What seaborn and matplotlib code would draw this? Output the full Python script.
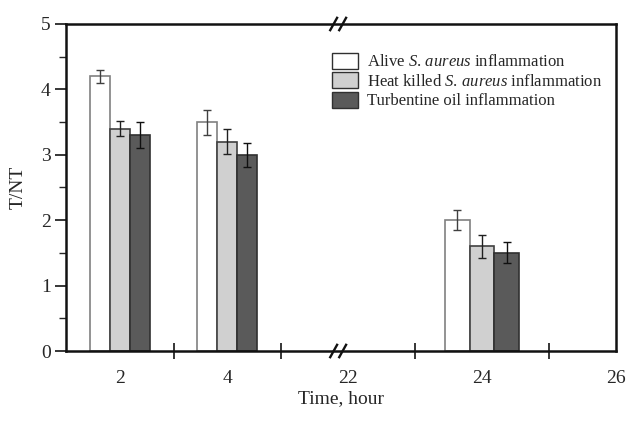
import numpy as np
import pandas as pd
import matplotlib
matplotlib.use("Agg")
import matplotlib.pyplot as plt
import seaborn as sns

# ---- data ----
hours = [2, 4, 24]
series = ["Alive $\\mathit{S.\\,aureus}$ inflammation",
          "Heat killed $\\mathit{S.\\,aureus}$ inflammation",
          "Turbentine oil inflammation"]
alive = [4.2, 3.5, 2.0]
alive_err = [0.1, 0.19, 0.15]
heat = [3.4, 3.2, 1.6]
heat_err = [0.11, 0.19, 0.18]
turp = [3.3, 3.0, 1.5]
turp_err = [0.2, 0.18, 0.16]
tick_labels = ["2", "4", "22", "24", "26"]
label_hours = [2, 4, 22, 24, 26]
boundary_hours = [3, 5, 23, 25]

# ---- broken-axis layout: hour -> axis position ----
knot_hours = [1, 5, 22, 26]
knot_pos = [0, 215, 282, 550]
def hpos(h):
    return np.interp(h, knot_hours, knot_pos)

sns.set_style("ticks")
plt.rcParams["font.family"] = ["Liberation Serif", "DejaVu Serif"]
plt.rcParams["mathtext.fontset"] = "custom"
plt.rcParams["mathtext.rm"] = "Liberation Serif"
plt.rcParams["mathtext.it"] = "Liberation Serif:italic"

df = pd.DataFrame({
    "pos": np.concatenate([hpos(hours)] * 3),
    "value": alive + heat + turp,
    "err": alive_err + heat_err + turp_err,
    "series": np.repeat(series, len(hours)),
})

fills = ["#ffffff", "#d0d0d0", "#5a5a5a"]
edges = ["#808080", "#404040", "#303030"]
errc = ["#404040", "#202020", "#101010"]

fig = plt.figure(figsize=(6.3, 4.23), dpi=100)
ax = fig.add_axes([66 / 630, 1 - 351 / 423, 550 / 630, 327 / 423])

sns.barplot(data=df, x="pos", y="value", hue="series", hue_order=series,
            native_scale=True, palette=fills, width=0.555, errorbar=None,
            linewidth=1.2, ax=ax, legend=True)

# style bars and add error bars
for si in range(3):
    cont = ax.containers[si]
    errs = df[df["series"] == series[si]]["err"].values
    for bi, patch in enumerate(cont.patches):
        patch.set_edgecolor(edges[si])
        if bi == 2:  # wider bars in the stretched segment after the break
            cx_group = hpos(hours[2])
            x0 = patch.get_x()
            w = patch.get_width()
            scale = 1.25
            patch.set_x(cx_group + (x0 - cx_group) * scale)
            patch.set_width(w * scale)
        cx = patch.get_x() + patch.get_width() / 2
        ax.errorbar(cx, patch.get_height(), yerr=errs[bi], fmt="none",
                    ecolor=errc[si], elinewidth=1.0, capsize=3, capthick=1.0,
                    zorder=5)

ax.set_xlim(hpos(1), hpos(26))
ax.set_ylim(0, 5)
ax.set_yticks([0, 1, 2, 3, 4, 5])
ax.set_yticks(np.arange(0.5, 5, 1.0), minor=True)
ax.tick_params(axis="y", which="major", direction="out", length=8, width=1.3,
               labelsize=14, pad=3)
ax.tick_params(axis="y", which="minor", direction="out", length=5, width=1.0)

ax.set_xticks(hpos(boundary_hours))
ax.set_xticklabels([])
ax.set_xticks(hpos(label_hours), minor=True)
ax.set_xticklabels(tick_labels, minor=True)
ax.tick_params(axis="x", which="major", direction="inout", length=12, width=1.3)
ax.tick_params(axis="x", which="minor", length=0, labelsize=14, pad=14)

for s in ax.spines.values():
    s.set_visible(True)
    s.set_linewidth(1.8)
    s.set_color("#111111")

ax.set_xlabel("Time, hour", fontsize=14, labelpad=2)
ax.set_ylabel("T/NT", fontsize=14, labelpad=10)

# break marks on top and bottom spines
bx = hpos(19.5)
trans = ax.get_xaxis_transform()
for yb in (0.0, 1.0):
    for dx in (-4.5, 4.5):
        ax.plot([bx + dx - 4, bx + dx + 4], [yb - 0.022, yb + 0.022],
                color="#111111", lw=1.7, clip_on=False, zorder=10,
                transform=trans, solid_capstyle="butt")

sns.move_legend(ax, loc="upper left", bbox_to_anchor=(0.483, 0.912),
                frameon=False, title=None, fontsize=12,
                handlelength=1.6, handleheight=1.08, labelspacing=0.12,
                handletextpad=0.55, borderaxespad=0, borderpad=0)
leg = ax.get_legend()
for h in leg.legend_handles:
    h.set_edgecolor("#303030")
    h.set_linewidth(1.0)

fig.savefig("out.png", dpi=100)
